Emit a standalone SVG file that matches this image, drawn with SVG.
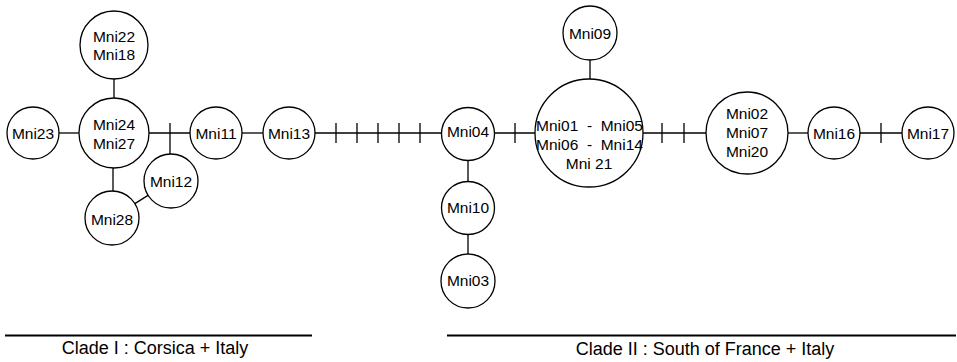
<svg xmlns="http://www.w3.org/2000/svg" width="957" height="362" viewBox="0 0 957 362">
<style>
.n circle{fill:#fff;stroke:#000;stroke-width:1.3}
.n text{font-family:"Liberation Sans",Arial,sans-serif;font-size:15.5px;text-anchor:middle;fill:#000;white-space:pre}
#edges line{stroke:#000;stroke-width:1.3}
.clade line{stroke:#000;stroke-width:2.2}
.clade text{font-family:"Liberation Sans",Arial,sans-serif;font-size:18px;text-anchor:middle;fill:#000}
</style>
<rect width="957" height="362" fill="#fff"/>
<g id="edges">
<line x1="114" y1="79" x2="114" y2="98"/>
<line x1="59" y1="133" x2="79" y2="133"/>
<line x1="149" y1="133" x2="190" y2="133"/>
<line x1="170" y1="123" x2="170" y2="154"/>
<line x1="148" y1="195.4" x2="134.9" y2="203.6"/>
<line x1="113" y1="168" x2="113" y2="191"/>
<line x1="242" y1="133" x2="263" y2="133"/>
<line x1="315" y1="133" x2="442" y2="133"/>
<line x1="336" y1="123" x2="336" y2="143"/>
<line x1="357" y1="123" x2="357" y2="143"/>
<line x1="378" y1="123" x2="378" y2="143"/>
<line x1="399" y1="123" x2="399" y2="143"/>
<line x1="420" y1="123" x2="420" y2="143"/>
<line x1="494" y1="133" x2="535" y2="133"/>
<line x1="515" y1="123" x2="515" y2="143"/>
<line x1="468" y1="160" x2="468" y2="181"/>
<line x1="468" y1="234" x2="468" y2="254"/>
<line x1="590" y1="60" x2="590" y2="79"/>
<line x1="643" y1="133" x2="706" y2="133"/>
<line x1="662" y1="123" x2="662" y2="143"/>
<line x1="684" y1="123" x2="684" y2="143"/>
<line x1="788" y1="133" x2="808" y2="133"/>
<line x1="860" y1="133" x2="902" y2="133"/>
<line x1="881" y1="123" x2="881" y2="143"/>
</g>
<g id="Mni22" class="n"><circle cx="114" cy="45" r="34"/><text x="114" y="42">Mni22</text><text x="114" y="60">Mni18</text></g>
<g id="Mni24" class="n"><circle cx="114" cy="133" r="35"/><text x="114" y="130">Mni24</text><text x="114" y="149">Mni27</text></g>
<g id="Mni23" class="n"><circle cx="33" cy="133" r="26"/><text x="33" y="138.5">Mni23</text></g>
<g id="Mni11" class="n"><circle cx="216" cy="133" r="26"/><text x="216" y="138.5">Mni11</text></g>
<g id="Mni13" class="n"><circle cx="289" cy="133" r="26"/><text x="289" y="138.5">Mni13</text></g>
<g id="Mni12" class="n"><circle cx="171" cy="181" r="27"/><text x="171" y="187">Mni12</text></g>
<g id="Mni28" class="n"><circle cx="112" cy="218" r="27"/><text x="112" y="224.5">Mni28</text></g>
<g id="Mni04" class="n"><circle cx="468" cy="134" r="26.5"/><text x="468" y="136.5">Mni04</text></g>
<g id="Mni10" class="n"><circle cx="468" cy="208" r="26.5"/><text x="468" y="212.5">Mni10</text></g>
<g id="Mni03" class="n"><circle cx="468" cy="281" r="27"/><text x="468" y="285.5">Mni03</text></g>
<g id="Mni09" class="n"><circle cx="590" cy="33" r="27"/><text x="590" y="39">Mni09</text></g>
<g id="Mni01" class="n"><circle cx="589" cy="133" r="54"/><text x="589.5" y="131">Mni01  -  Mni05</text><text x="589.5" y="150">Mni06  -  Mni14</text><text x="589" y="169">Mni 21</text></g>
<g id="Mni02" class="n"><circle cx="747" cy="133" r="41"/><text x="747" y="119">Mni02</text><text x="747" y="138">Mni07</text><text x="747" y="157">Mni20</text></g>
<g id="Mni16" class="n"><circle cx="834" cy="133" r="26"/><text x="834" y="138.5">Mni16</text></g>
<g id="Mni17" class="n"><circle cx="928" cy="133" r="26"/><text x="928" y="138.5">Mni17</text></g>
<g id="clade1" class="clade"><line x1="5" y1="335.5" x2="312" y2="335.5"/><text x="155" y="354">Clade I : Corsica + Italy</text></g>
<g id="clade2" class="clade"><line x1="447" y1="335.5" x2="956" y2="335.5"/><text x="705" y="355">Clade II : South of France + Italy</text></g>
</svg>
